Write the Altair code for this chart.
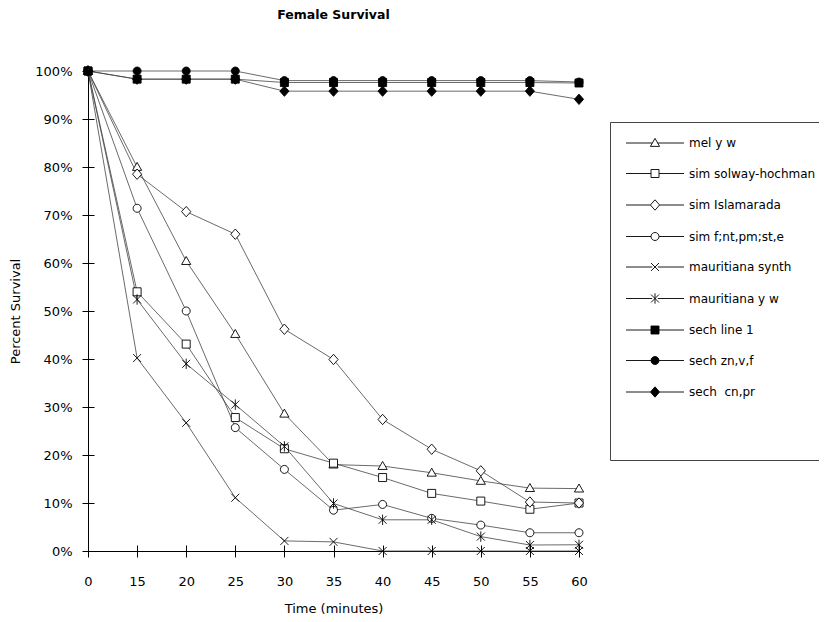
import altair as alt
import pandas as pd

times = ["0", "15", "20", "25", "30", "35", "40", "45", "50", "55", "60"]
series_names = [
    "mel y w",
    "sim solway-hochman",
    "sim Islamarada",
    "sim f;nt,pm;st,e",
    "mauritiana synth",
    "mauritiana y w",
    "sech line 1",
    "sech zn,v,f",
    "sech\u00a0\u00a0cn,pr",
]

mel_y_w = [100, 80, 60.4, 45.2, 28.6, 18.0, 17.7, 16.3, 14.6, 13.1, 13.0]
sim_solway = [100, 54, 43.1, 27.8, 21.3, 18.3, 15.3, 12.0, 10.4, 8.7, 10.0]
sim_islamarada = [100, 78.5, 70.7, 66.0, 46.2, 39.9, 27.4, 21.2, 16.7, 10.2, 10.0]
sim_f = [100, 71.4, 50.0, 25.7, 17.0, 8.5, 9.7, 6.8, 5.4, 3.8, 3.8]
maur_synth = [100, 40.2, 26.7, 11.1, 2.1, 1.9, 0, 0, 0, 0, 0]
maur_y_w = [100, 52.4, 39.0, 30.5, 21.8, 9.9, 6.5, 6.5, 3.0, 1.25, 1.3]
sech_line1 = [100, 98.3, 98.3, 98.3, 97.6, 97.6, 97.6, 97.6, 97.6, 97.6, 97.5]
sech_zn = [100, 100, 100, 100, 98.0, 98.0, 98.0, 98.0, 98.0, 98.0, 97.7]
sech_cn = [100, 98.3, 98.3, 98.3, 95.8, 95.8, 95.8, 95.8, 95.8, 95.8, 94.1]

all_values = [mel_y_w, sim_solway, sim_islamarada, sim_f, maur_synth,
              maur_y_w, sech_line1, sech_zn, sech_cn]

rows = []
for name, vals in zip(series_names, all_values):
    for i, (t, v) in enumerate(zip(times, vals)):
        rows.append({"series": name, "time": t, "idx": i, "pct": v})
df = pd.DataFrame(rows)

# marker glyphs (unit space)
TRI = "M0,-1.15L1.15,0.85L-1.15,0.85Z"
SQ = "M-1,-1H1V1H-1Z"
DIA = "M0,-1.3L1.15,0L0,1.3L-1.15,0Z"
CIRC = "M1,0A1,1,0,1,1,-1,0A1,1,0,1,1,1,0Z"
XX = "M-1,-1L1,1M-1,1L1,-1"
AST = "M-1,-1L1,1M-1,1L1,-1M0,-1.3V1.3"

marker_shapes = [TRI, SQ, DIA, CIRC, XX, AST, SQ, CIRC, DIA]
gaps = [0.66, 1, 1.15, 1, 0.7, 0.7, 1, 1, 1.15]
legend_shapes = [
    "M-7.25,0H-%s%sM%s,0H7.25" % (g, s, g) for s, g in zip(marker_shapes, gaps)
]
fills = ["white"] * 6 + ["black"] * 3
strokes = ["black"] * 9

FONT = "DejaVu Sans"

x_scale = alt.Scale(type="point", padding=0)
y_scale = alt.Scale(domain=[0, 100], nice=False, zero=False)
y_ticks = list(range(0, 101, 10))

# main axes: domain line, labels and titles
x_main = alt.X("time:O", sort=times, scale=x_scale,
               axis=alt.Axis(title="Time (minutes)", labelAngle=0, ticks=False, tickSize=0,
                             labelPadding=24, titlePadding=14, orient="bottom"))
y_main = alt.Y("pct:Q", scale=y_scale,
               axis=alt.Axis(title="Percent Survival", values=y_ticks,
                             labelExpr="datum.value + '%'", grid=False, ticks=False,
                             tickSize=0, labelPadding=16, titlePadding=12, orient="left"))

# tick-only axes that cross the axis lines
x_tick = alt.X("time:O", sort=times, scale=x_scale,
               axis=alt.Axis(title=None, labels=False, domain=False, ticks=True,
                             tickSize=12, offset=-6, orient="bottom"))
y_tick = alt.Y("pct:Q", scale=y_scale,
               axis=alt.Axis(title=None, labels=False, domain=False, ticks=True,
                             tickSize=12, offset=-6, values=y_ticks, grid=False,
                             orient="left"))

x_none = alt.X("time:O", sort=times, scale=x_scale, axis=None)
y_none = alt.Y("pct:Q", scale=y_scale, axis=None)

base = alt.Chart(df)

lines = base.mark_line(color="#444444", strokeWidth=0.8).encode(
    x=x_main, y=y_main, detail="series:N", order="idx:Q"
)

points = base.mark_point(size=64, stroke="black", strokeWidth=0.9, opacity=1).encode(
    x=x_tick,
    y=y_tick,
    shape=alt.Shape("series:N", scale=alt.Scale(domain=series_names, range=marker_shapes), legend=None),
    fill=alt.Fill("series:N", scale=alt.Scale(domain=series_names, range=fills), legend=None),
)

leg = alt.Legend(
    title="\u00a0",
    titleOrient="bottom",
    titlePadding=33,
    titleFontSize=13,
    orient="none",
    legendX=522,
    legendY=51,
    symbolSize=64,
    symbolOffset=24,
    symbolStrokeColor="black",
    symbolStrokeWidth=0.9,
    labelFont=FONT,
    labelFontSize=12,
    labelColor="black",
    labelOffset=28,
    rowPadding=18.5,
    padding=15,
    strokeColor="#444444",
)

legend_layer = base.mark_point(size=64, strokeWidth=0.9, opacity=1).encode(
    x=x_none,
    y=y_none,
    shape=alt.Shape("series:N", scale=alt.Scale(domain=series_names, range=legend_shapes), legend=leg),
    fill=alt.Fill("series:N", scale=alt.Scale(domain=series_names, range=fills), legend=leg),
    stroke=alt.Stroke("series:N", scale=alt.Scale(domain=series_names, range=strokes), legend=leg),
).transform_filter("false")

chart = (
    alt.layer(lines, points, legend_layer)
    .resolve_scale(shape="independent", fill="independent", stroke="independent")
    .resolve_axis(x="independent", y="independent")
    .properties(
        width=491,
        height=480,
        autosize=alt.AutoSizeParams(type="none"),
        padding={"left": 80, "top": 63, "right": 240, "bottom": 64},
        title=alt.Title("Female Survival", font=FONT, fontSize=12.5, fontWeight="bold",
                        offset=43, frame="group", anchor="middle", color="black"),
    )
    .configure_view(stroke=None)
    .configure_axis(
        labelFont=FONT, labelFontSize=13, labelColor="black",
        titleFont=FONT, titleFontSize=13, titleFontWeight="normal", titleColor="black",
        domainColor="black", tickColor="black", domainWidth=1, tickWidth=1,
    )
)

chart.save("out.html", embed_options={"renderer": "svg", "actions": False})
